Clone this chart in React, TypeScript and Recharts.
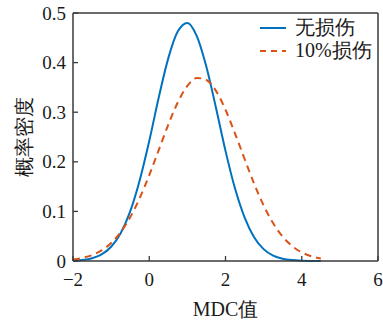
import { Line, LineChart, ReferenceLine, XAxis, YAxis } from "recharts";

const xValues = [
  -2, -1.75, -1.5, -1.25, -1, -0.75, -0.5, -0.25, 0, 0.25, 0.5, 0.75, 1, 1.25,
  1.5, 1.75, 2, 2.25, 2.5, 2.75, 3, 3.25, 3.5, 3.75, 4, 4.25, 4.5,
];
const intactValues = [
  0.0008, 0.0022, 0.0057, 0.0134, 0.0287, 0.056, 0.1, 0.163, 0.242, 0.33,
  0.409, 0.463, 0.48, 0.453, 0.391, 0.309, 0.222, 0.146, 0.088, 0.048, 0.024,
  0.011, 0.0046, 0.0018, 0.0006, 0.0002, 0.0001,
];
const damagedValues = [
  0.0032, 0.0063, 0.0119, 0.0213, 0.0361, 0.058, 0.088, 0.127, 0.173, 0.224,
  0.275, 0.32, 0.353, 0.369, 0.365, 0.343, 0.305, 0.257, 0.206, 0.156, 0.112,
  0.076, 0.049, 0.03, 0.0174, 0.0096, 0.005,
];
const xTicks = [-2, 0, 2, 4, 6];
const yTicks = [0, 0.1, 0.2, 0.3, 0.4, 0.5];
const seriesNames = ["无损伤", "10%损伤"];

const BLUE = "#0072BD";
const ORANGE = "#D95319";
const AXIS = "#3a3a3a";
const FONT = "Liberation Serif, serif";

const data = xValues.map((x, i) => ({
  x,
  intact: intactValues[i],
  damaged: damagedValues[i],
}));

const fmtX = (v: number) => (v < 0 ? `\u2212${Math.abs(v)}` : `${v}`);

function XTick({ x, y, payload }: any) {
  const axisY = y - 12;
  return (
    <g>
      <line x1={x} x2={x} y1={axisY} y2={axisY - 5} stroke={AXIS} strokeWidth={1.3} />
      <text x={x} y={y} dy="0.71em" textAnchor="middle" fontSize={19} fill="#1a1a1a" style={{ fontFamily: FONT }}>
        {fmtX(payload.value)}
      </text>
    </g>
  );
}

function YTick({ x, y, payload }: any) {
  const axisX = x + 7;
  return (
    <g>
      <line x1={axisX} x2={axisX + 5} y1={y} y2={y} stroke={AXIS} strokeWidth={1.3} />
      <text x={x} y={y} dy="0.35em" textAnchor="end" fontSize={19} fill="#1a1a1a" style={{ fontFamily: FONT }}>
        {payload.value}
      </text>
    </g>
  );
}

function LegendBox() {
  const rows = [
    { name: seriesNames[0], color: BLUE, dash: undefined },
    { name: seriesNames[1], color: ORANGE, dash: "6 5" },
  ];
  return (
    <div
      style={{
        position: "absolute",
        top: 16,
        left: 259,
        fontFamily: FONT,
        fontSize: 20,
        color: "#1a1a1a",
        lineHeight: "23px",
      }}
    >
      {rows.map((r) => (
        <div key={r.name} style={{ display: "flex", alignItems: "center" }}>
          <svg width={32} height={10} style={{ marginRight: 4 }}>
            <line x1={1} x2={27} y1={5} y2={5} stroke={r.color} strokeWidth={2} strokeDasharray={r.dash} />
          </svg>
          <span>{r.name}</span>
        </div>
      ))}
    </div>
  );
}

export default function App() {
  return (
    <div style={{ position: "absolute", left: 0, top: 0, width: 383, height: 323, fontFamily: FONT }}>
      <LineChart width={383} height={323} data={data} margin={{ top: 13, right: 5, left: 0, bottom: 0 }}>
        <XAxis
          dataKey="x"
          type="number"
          domain={[-2, 6]}
          ticks={xTicks}
          height={62}
          tickSize={0}
          tickMargin={12}
          tickLine={false}
          axisLine={{ stroke: AXIS, strokeWidth: 1.5 }}
          tick={<XTick />}
          interval={0}
          label={{ value: "MDC值", position: "insideBottom", offset: 7, fontSize: 20, fill: "#1a1a1a", style: { fontFamily: FONT } }}
        />
        <YAxis
          type="number"
          domain={[0, 0.5]}
          ticks={yTicks}
          width={73}
          tickSize={0}
          tickMargin={7}
          tickLine={false}
          axisLine={{ stroke: AXIS, strokeWidth: 1.5 }}
          tick={<YTick />}
          interval={0}
          label={{ value: "概率密度", angle: -90, position: "insideLeft", offset: 24, fontSize: 20, fill: "#1a1a1a", style: { textAnchor: "middle", fontFamily: FONT } }}
        />
        <ReferenceLine y={0.5} stroke={AXIS} strokeWidth={1.5} />
        <ReferenceLine x={6} stroke={AXIS} strokeWidth={1.5} />
        <Line type="monotone" dataKey="intact" stroke={BLUE} strokeWidth={2} dot={false} isAnimationActive={false} />
        <Line type="monotone" dataKey="damaged" stroke={ORANGE} strokeWidth={2} strokeDasharray="7 5" dot={false} isAnimationActive={false} />
      </LineChart>
      <LegendBox />
    </div>
  );
}
